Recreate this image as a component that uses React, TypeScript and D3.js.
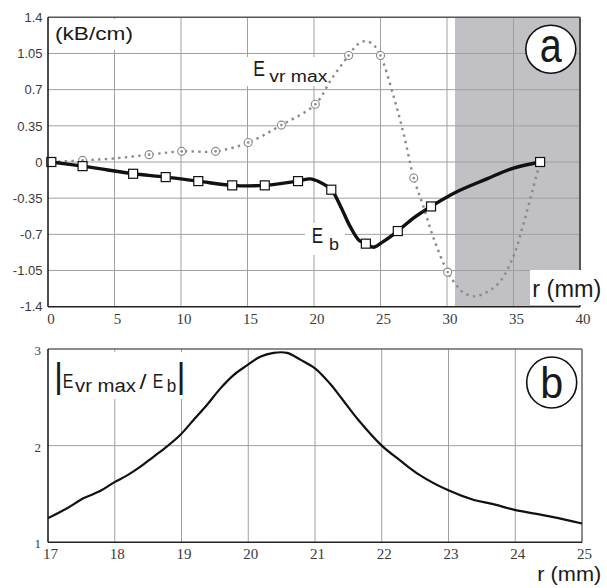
import React from 'react';
import * as d3 from 'd3';

// ---------- data ----------
const rTicksA = [0, 5, 10, 15, 20, 25, 30, 35, 40];
const eTicksA = [-1.4, -1.05, -0.7, -0.35, 0, 0.35, 0.7, 1.05, 1.4];
const eTickLabelsA = ['-1.4', '-1.05', '-0.7', '-0.35', '0', '0.35', '0.7', '1.05', '1.4'];
const rTicksB = [17, 18, 19, 20, 21, 22, 23, 24, 25];
const ratioTicksB = [1, 2, 3];

const shadeFrom = 30.6;
const shadeTo = 40;

// E_b curve (solid black)
const ebCurveR = [0.25, 2.6, 4.5, 6.4, 8.85, 11.3, 13.85, 16.3, 18.8, 19.7, 20.45, 21.3, 22.0, 22.7, 23.4, 23.9, 24.45, 25.2, 26.3, 27.5, 28.8, 30.7, 33.0, 35.0, 37.0];
const ebCurveV = [0, -0.04, -0.077, -0.114, -0.146, -0.185, -0.226, -0.226, -0.185, -0.163, -0.195, -0.268, -0.43, -0.62, -0.76, -0.79, -0.825, -0.77, -0.668, -0.54, -0.43, -0.29, -0.163, -0.059, 0];
const ebMarkR = [0.25, 2.6, 6.4, 8.85, 11.3, 13.85, 16.3, 18.8, 21.3, 23.9, 26.3, 28.8, 37.0];
const ebMarkV = [0, -0.04, -0.114, -0.146, -0.185, -0.226, -0.226, -0.185, -0.268, -0.79, -0.668, -0.43, 0];

// E_vr max curve (dotted grey)
const evrCurveR = [0.25, 2.6, 5, 7.6, 10.05, 12.6, 15.05, 17.55, 20.1, 21.3, 22.6, 23.3, 23.9, 24.5, 25.0, 26.0, 26.8, 27.5, 28.2, 29.0, 30.05, 30.7, 31.2, 32.1, 33.1, 34.0, 35.0, 35.7, 36.4, 37.0];
const evrCurveV = [0, 0.016, 0.035, 0.071, 0.103, 0.103, 0.188, 0.357, 0.559, 0.8, 1.03, 1.14, 1.17, 1.13, 1.03, 0.63, 0.24, -0.155, -0.42, -0.74, -1.065, -1.19, -1.26, -1.3, -1.25, -1.156, -0.91, -0.62, -0.29, 0];
const evrMarkR = [0.25, 2.6, 7.6, 10.05, 12.6, 15.05, 17.55, 20.1, 22.6, 25.0, 27.5, 30.05, 37.0];
const evrMarkV = [0, 0.016, 0.071, 0.103, 0.103, 0.188, 0.357, 0.559, 1.03, 1.03, -0.155, -1.065, 0];

// |E_vr max / E_b| (panel b)
const ratioR = [17, 17.28, 17.53, 17.78, 17.99, 18.18, 18.38, 18.58, 18.78, 18.98, 19.18, 19.38, 19.58, 19.78, 19.98, 20.18, 20.38, 20.58, 20.78, 21.0, 21.22, 21.42, 21.65, 22.0, 22.27, 22.57, 22.99, 23.37, 23.67, 23.99, 24.27, 24.57, 25.0];
const ratioV = [1.25, 1.35, 1.455, 1.53, 1.62, 1.69, 1.78, 1.885, 1.99, 2.11, 2.265, 2.42, 2.59, 2.73, 2.83, 2.92, 2.96, 2.96, 2.89, 2.8, 2.645, 2.47, 2.265, 2.0, 1.85, 1.695, 1.54, 1.44, 1.395, 1.335, 1.3, 1.26, 1.195];

const SANS = 'Liberation Sans';
const SERIF = 'Liberation Serif';

const sans = (size: number): React.CSSProperties => ({ fontFamily: SANS, fontSize: size });
const serif = (size: number): React.CSSProperties => ({ fontFamily: SERIF, fontSize: size });

export default function App() {
  const xA = d3.scaleLinear().domain([0, 40]).range([48, 580]);
  const yA = d3.scaleLinear().domain([-1.4, 1.4]).range([306.7, 17.3]);
  const xB = d3.scaleLinear().domain([17, 25]).range([48, 582]);
  const yB = d3.scaleLinear().domain([1, 3]).range([542.3, 349]);

  const lineA = d3
    .line<[number, number]>()
    .x((d) => xA(d[0]))
    .y((d) => yA(d[1]))
    .curve(d3.curveCatmullRom.alpha(0.5));
  const lineB = d3
    .line<[number, number]>()
    .x((d) => xB(d[0]))
    .y((d) => yB(d[1]))
    .curve(d3.curveCatmullRom.alpha(0.5));

  const ebPts = ebCurveR.map((r, i) => [r, ebCurveV[i]] as [number, number]);
  const evrPts = evrCurveR.map((r, i) => [r, evrCurveV[i]] as [number, number]);
  const ratioPts = ratioR.map((r, i) => [r, ratioV[i]] as [number, number]);

  const gridCol = '#a0a0a0';
  const tickCol = '#3a3a3a';
  const ink = '#1a1a1a';

  return (
    <svg
      width={607}
      height={588}
      viewBox="0 0 607 588"
      style={{ position: 'absolute', left: 0, top: 0, display: 'block', background: '#fff' }}
    >
      <rect x={0} y={0} width={607} height={588} fill="#fff" />

      {/* ================= Panel a ================= */}
      <rect
        x={xA(shadeFrom)}
        y={yA(1.4)}
        width={xA(shadeTo) - xA(shadeFrom)}
        height={yA(-1.4) - yA(1.4)}
        fill="#c1c1c5"
      />
      {rTicksA.slice(1, -1).map((t) => (
        <line key={'gxa' + t} x1={xA(t)} x2={xA(t)} y1={yA(1.4)} y2={yA(-1.4)} stroke={gridCol} strokeWidth={1} />
      ))}
      {eTicksA.slice(1, -1).map((t) => (
        <line key={'gya' + t} x1={xA(0)} x2={xA(40)} y1={yA(t)} y2={yA(t)} stroke={gridCol} strokeWidth={1} />
      ))}

      {/* label backgrounds */}
      <rect x={50} y={19} width={88} height={31} fill="#fff" />
      <rect x={246} y={57} width={88} height={29} fill="#fff" />
      <rect x={305} y={223} width={40} height={32} fill="#fff" />

      {/* frame */}
      <line x1={xA(0)} x2={xA(40)} y1={yA(1.4)} y2={yA(1.4)} stroke="#555" strokeWidth={1.5} />
      <line x1={xA(40)} x2={xA(40)} y1={yA(1.4)} y2={yA(-1.4)} stroke="#555" strokeWidth={2} />

      {/* curves */}
      <path d={lineA(evrPts) || ''} fill="none" stroke="#8a8a8a" strokeWidth={2.4} strokeDasharray="2.4 4.3" />
      <path d={lineA(ebPts) || ''} fill="none" stroke="#111" strokeWidth={3.4} strokeLinejoin="round" />

      {evrMarkR.map((r, i) => (
        <g key={'evm' + i}>
          <circle cx={xA(r)} cy={yA(evrMarkV[i])} r={4} fill="#fff" stroke="#8a8a8a" strokeWidth={1.1} />
          <circle cx={xA(r)} cy={yA(evrMarkV[i])} r={1.3} fill="#8a8a8a" />
        </g>
      ))}
      {ebMarkR.map((r, i) => (
        <rect
          key={'ebm' + i}
          x={xA(r) - 4.5}
          y={yA(ebMarkV[i]) - 4.5}
          width={9}
          height={9}
          fill="#fff"
          stroke="#111"
          strokeWidth={1.2}
        />
      ))}

      {/* r (mm) box */}
      <rect x={530} y={270} width={77} height={35} fill="#fff" />

      {/* axes */}
      <line x1={xA(0)} x2={xA(0)} y1={yA(1.4)} y2={yA(-1.4)} stroke="#111" strokeWidth={1.5} />
      <line x1={xA(0)} x2={xA(40)} y1={yA(-1.4)} y2={yA(-1.4)} stroke="#222" strokeWidth={1.5} />

      {/* tick labels */}
      {eTicksA.map((t, i) => (
        <text key={'tya' + t} x={42.5} y={yA(t) + 4.7} textAnchor="end" style={sans(13)} fill={tickCol}>
          {eTickLabelsA[i]}
        </text>
      ))}
      {rTicksA.map((t) => (
        <text key={'txa' + t} x={xA(t) + 3} y={323.5} textAnchor="middle" style={serif(15)} fill={tickCol}>
          {t}
        </text>
      ))}

      {/* labels */}
      <text x={55} y={40} style={sans(18)} fill={ink} textLength={78} lengthAdjust="spacingAndGlyphs">
        (kB/cm)
      </text>
      <text x={253.3} y={75.7} style={sans(22)} fill={ink} textLength={11.7} lengthAdjust="spacingAndGlyphs">
        E
      </text>
      <text x={269.3} y={81.7} style={sans(16)} fill={ink} textLength={58} lengthAdjust="spacingAndGlyphs">
        vr max
      </text>
      <text x={311.7} y={243.3} style={sans(22)} fill={ink} textLength={11.3} lengthAdjust="spacingAndGlyphs">
        E
      </text>
      <text x={329} y={250} style={sans(17)} fill={ink} textLength={10} lengthAdjust="spacingAndGlyphs">
        b
      </text>

      <ellipse cx={550.8} cy={49.2} rx={25} ry={24} fill="#fff" stroke="#111" strokeWidth={1.6} />
      <text x={550.8} y={61.5} textAnchor="middle" style={sans(48)} fill={ink} textLength={22} lengthAdjust="spacingAndGlyphs">
        a
      </text>

      <text x={532.3} y={296.7} style={sans(23)} fill={ink} textLength={69} lengthAdjust="spacingAndGlyphs">
        r (mm)
      </text>

      {/* ================= Panel b ================= */}
      {rTicksB.slice(1, -1).map((t) => (
        <line key={'gxb' + t} x1={xB(t)} x2={xB(t)} y1={yB(3)} y2={yB(1)} stroke={gridCol} strokeWidth={1} />
      ))}
      {ratioTicksB.slice(1, -1).map((t) => (
        <line key={'gyb' + t} x1={xB(17)} x2={xB(25)} y1={yB(t)} y2={yB(t)} stroke={gridCol} strokeWidth={1} />
      ))}
      <rect x={51} y={352} width={134} height={47} fill="#fff" />

      <line x1={xB(17)} x2={xB(25)} y1={yB(3)} y2={yB(3)} stroke="#666" strokeWidth={1.5} />
      <line x1={xB(25)} x2={xB(25)} y1={yB(3)} y2={yB(1)} stroke="#666" strokeWidth={1.5} />

      <path d={lineB(ratioPts) || ''} fill="none" stroke="#111" strokeWidth={2.2} strokeLinejoin="round" />

      <line x1={xB(17)} x2={xB(17)} y1={yB(3)} y2={yB(1)} stroke="#111" strokeWidth={1.5} />
      <line x1={xB(17)} x2={xB(25)} y1={yB(1)} y2={yB(1)} stroke="#222" strokeWidth={1.5} />

      {ratioTicksB.map((t) => (
        <text key={'tyb' + t} x={41} y={yB(t) + 6} textAnchor="end" style={serif(13)} fill={tickCol}>
          {t}
        </text>
      ))}
      {rTicksB.map((t) => (
        <text key={'txb' + t} x={xB(t) + 2.5} y={559} textAnchor="middle" style={serif(15)} fill={tickCol}>
          {t}
        </text>
      ))}

      {/* |E_vr max / E_b| */}
      <text x={58.5} y={388} textAnchor="middle" style={sans(35)} fill={ink}>
        |
      </text>
      <text x={62.7} y={387.7} style={sans(21)} fill={ink} textLength={10.7} lengthAdjust="spacingAndGlyphs">
        E
      </text>
      <text x={75} y={391.7} style={sans(18)} fill={ink} textLength={61} lengthAdjust="spacingAndGlyphs">
        vr max
      </text>
      <text x={139.5} y={389} style={sans(21)} fill={ink} textLength={7} lengthAdjust="spacingAndGlyphs">
        /
      </text>
      <text x={152.7} y={387.7} style={sans(21)} fill={ink} textLength={10.6} lengthAdjust="spacingAndGlyphs">
        E
      </text>
      <text x={166.7} y={391.7} style={sans(19)} fill={ink} textLength={9.5} lengthAdjust="spacingAndGlyphs">
        b
      </text>
      <text x={181} y={388} textAnchor="middle" style={sans(35)} fill={ink}>
        |
      </text>

      <ellipse cx={551.7} cy={382.5} rx={25} ry={25.5} fill="#fff" stroke="#111" strokeWidth={1.6} />
      <text x={551.7} y={398.3} textAnchor="middle" style={sans(45)} fill={ink} textLength={23} lengthAdjust="spacingAndGlyphs">
        b
      </text>

      <text x={537.3} y={581} style={sans(21)} fill={ink} textLength={64} lengthAdjust="spacingAndGlyphs">
        r (mm)
      </text>
    </svg>
  );
}
